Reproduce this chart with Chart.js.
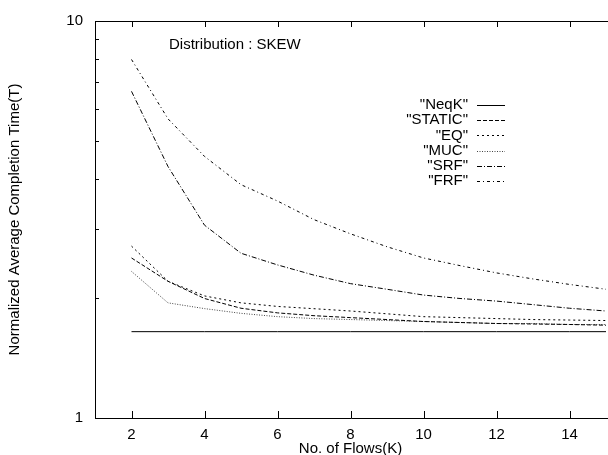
<!DOCTYPE html>
<html>
<head>
<meta charset="utf-8">
<script src="https://cdn.jsdelivr.net/npm/chart.js@4.4.1/dist/chart.umd.min.js"></script>
<style>
  html, body { margin: 0; padding: 0; background: #fff; }
  canvas { display: block; }
</style>
</head>
<body>
<canvas id="completionChart" width="608" height="455"></canvas>
<script>
// Data (log y axis)
const flows   = [2, 3, 4, 5, 6, 7, 8, 9, 10, 11, 12, 13, 14, 15];
const neqK    = [1.65, 1.65, 1.65, 1.65, 1.65, 1.65, 1.65, 1.65, 1.65, 1.65, 1.65, 1.65, 1.65, 1.65];
const staticT = [2.53, 2.21, 2.00, 1.89, 1.84, 1.81, 1.79, 1.77, 1.75, 1.74, 1.73, 1.725, 1.72, 1.713];
const eqT     = [2.71, 2.21, 2.03, 1.95, 1.91, 1.885, 1.86, 1.83, 1.80, 1.79, 1.78, 1.77, 1.765, 1.76];
const mucT    = [2.34, 1.95, 1.886, 1.835, 1.80, 1.78, 1.77, 1.76, 1.75, 1.74, 1.73, 1.73, 1.72, 1.72];
const srfT    = [6.65, 4.3, 3.06, 2.6, 2.43, 2.29, 2.18, 2.11, 2.04, 2.0, 1.97, 1.93, 1.89, 1.86];
const frfT    = [8.0, 5.67, 4.56, 3.87, 3.52, 3.16, 2.91, 2.70, 2.53, 2.42, 2.32, 2.24, 2.17, 2.11];

const seriesNames = ['"NeqK"', '"STATIC"', '"EQ"', '"MUC"', '"SRF"', '"FRF"'];
const xTicks = [2, 4, 6, 8, 10, 12, 14];
const yTicks = [1, 2, 3, 4, 5, 6, 7, 8, 9, 10];
const yLabels = [1, 10];
const plotTitle = 'Distribution : SKEW';

const FONT = '"Liberation Sans", Arial, Helvetica, sans-serif';

function toPoints(values) {
    return flows.map((f, i) => ({ x: f, y: values[i] }));
}

const styles = [
    { dash: [] },
    { dash: [4, 2] },
    { dash: [2, 3] },
    { dash: [1, 1.5], color: '#444' },
    { dash: [5, 2, 1, 2] },
    { dash: [3, 3, 1, 3] }
];
const allSeries = [neqK, staticT, eqT, mucT, srfT, frfT];

// gnuplot style frame, inward ticks, key and label
const gnuplotFrame = {
    id: 'gnuplotFrame',
    afterDraw(chart) {
        const { ctx, chartArea: a, scales: { x, y } } = chart;
        ctx.save();
        ctx.strokeStyle = '#000';
        ctx.lineWidth = 1;
        ctx.setLineDash([]);
        ctx.beginPath();
        ctx.moveTo(a.left + 0.5, a.top + 0.5);
        ctx.lineTo(chart.width, a.top + 0.5);
        ctx.moveTo(a.left + 0.5, a.top);
        ctx.lineTo(a.left + 0.5, a.bottom + 0.5);
        ctx.lineTo(chart.width, a.bottom + 0.5);
        xTicks.forEach(v => {
            const px = Math.round(x.getPixelForValue(v)) + 0.5;
            ctx.moveTo(px, a.bottom);
            ctx.lineTo(px, a.bottom - 7);
            ctx.moveTo(px, a.top);
            ctx.lineTo(px, a.top + 6);
        });
        yTicks.forEach(v => {
            const py = Math.round(y.getPixelForValue(v)) + 0.5;
            const len = yLabels.includes(v) ? 7 : 4;
            ctx.moveTo(a.left, py);
            ctx.lineTo(a.left + len, py);
        });
        ctx.stroke();

        // title inside plot
        ctx.fillStyle = '#000';
        ctx.font = '15px ' + FONT;
        ctx.textBaseline = 'middle';
        ctx.textAlign = 'left';
        ctx.fillText(plotTitle, 169, 45);

        // key
        ctx.textAlign = 'right';
        chart.data.datasets.forEach((ds, i) => {
            const rowY = 105 + i * 15.2;
            ctx.fillStyle = '#000';
            ctx.fillText(seriesNames[i], 468, rowY);
            ctx.strokeStyle = ds.borderColor;
            ctx.setLineDash(ds.borderDash);
            ctx.beginPath();
            ctx.moveTo(477, Math.round(rowY) + 0.5);
            ctx.lineTo(505, Math.round(rowY) + 0.5);
            ctx.stroke();
        });
        ctx.restore();
    }
};

new Chart(document.getElementById('completionChart'), {
    type: 'line',
    data: {
        datasets: allSeries.map((vals, i) => ({
            label: seriesNames[i],
            data: toPoints(vals),
            borderColor: styles[i].color || '#000',
            borderWidth: 1,
            borderDash: styles[i].dash,
            pointRadius: 0,
            tension: 0,
            fill: false
        }))
    },
    options: {
        responsive: false,
        animation: false,
        devicePixelRatio: 1,
        layout: {
            padding: { top: 16, right: 2, left: 0, bottom: 0 }
        },
        plugins: {
            legend: { display: false },
            title: { display: false },
            tooltip: { enabled: false }
        },
        scales: {
            x: {
                type: 'linear',
                min: 1,
                max: 15,
                afterBuildTicks: scale => {
                    scale.ticks = xTicks.map(v => ({ value: v }));
                },
                afterFit: scale => { scale.height = 37; },
                grid: { display: false, drawTicks: false },
                border: { display: false },
                ticks: {
                    color: '#000',
                    font: { family: FONT, size: 15 },
                    padding: 8,
                    maxRotation: 0,
                    autoSkip: false
                },
                title: {
                    display: true,
                    text: 'No. of Flows(K)',
                    color: '#000',
                    font: { family: FONT, size: 15, lineHeight: 0.8 },
                    padding: 0
                }
            },
            y: {
                type: 'logarithmic',
                min: 1,
                max: 10,
                afterBuildTicks: scale => {
                    scale.ticks = yTicks.map(v => ({ value: v }));
                },
                afterFit: scale => { scale.width = 95; },
                grid: { display: false, drawTicks: false },
                border: { display: false },
                ticks: {
                    color: '#000',
                    font: { family: FONT, size: 15 },
                    padding: 12,
                    autoSkip: false,
                    callback: function (value) {
                        return yLabels.includes(value) ? String(value) : '';
                    }
                },
                title: {
                    display: true,
                    text: 'Normalized Average Completion Time(T)',
                    color: '#000',
                    font: { family: FONT, size: 15, lineHeight: 1 },
                    padding: { top: 7, bottom: 0 }
                }
            }
        }
    },
    plugins: [gnuplotFrame]
});
</script>
</body>
</html>
